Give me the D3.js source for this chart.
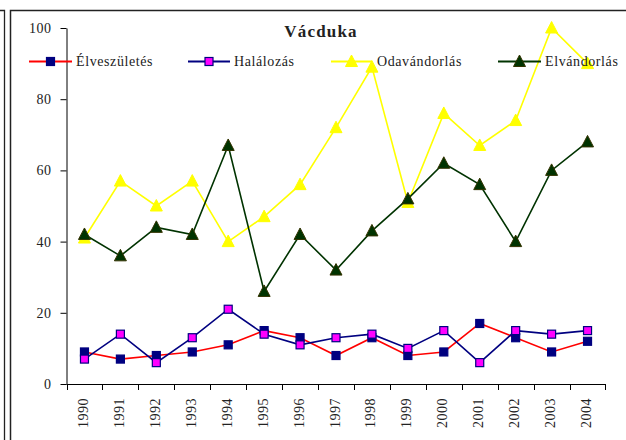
<!DOCTYPE html>
<html>
<head>
<meta charset="utf-8">
<script src="https://cdn.jsdelivr.net/npm/d3@7"></script>
<style>
  body { margin: 0; background: #fff; }
  text { font-family: "Liberation Serif", "Times New Roman", serif; fill: #222; }
</style>
</head>
<body>
<script>
const width = 626, height = 440;

const years = ["1990","1991","1992","1993","1994","1995","1996","1997","1998","1999","2000","2001","2002","2003","2004"];
const elveszuletes = [9, 7, 8, 9, 11, 15, 13, 8, 13, 8, 9, 17, 13, 9, 12];
const halalozas = [7, 14, 6, 13, 21, 14, 11, 13, 14, 10, 15, 6, 15, 14, 15];
const odavandorlas = [41, 57, 50, 57, 40, 47, 56, 72, 89, 51, 76, 67, 74, 100, 90];
const elvandorlas = [42, 36, 44, 42, 67, 26, 42, 32, 43, 52, 62, 56, 40, 60, 68];
const yTicks = [0, 20, 40, 60, 80, 100];

const series = [
  { name: "Élveszületés", values: elveszuletes, line: "#ff0000", marker: "square", fill: "#000080", stroke: "#000080", lx: 29, lx2: 72, tx: 76 },
  { name: "Halálozás", values: halalozas, line: "#000080", marker: "square", fill: "#ff00ff", stroke: "#000080", lx: 188, lx2: 230, tx: 234 },
  { name: "Odavándorlás", values: odavandorlas, line: "#ffff00", marker: "triangle", fill: "#ffff00", stroke: "#ffff00", lx: 331, lx2: 372, tx: 377 },
  { name: "Elvándorlás", values: elvandorlas, line: "#003300", marker: "triangle", fill: "#003300", stroke: "#333300", lx: 498, lx2: 541, tx: 545 }
];

const svg = d3.select("body").append("svg")
  .attr("width", width)
  .attr("height", height);

// frames
svg.append("path")
  .attr("d", "M0,10.5H4.5V440")
  .attr("fill", "none").attr("stroke", "#222").attr("stroke-width", 1.3);
svg.append("path")
  .attr("d", "M10.5,440V10.5H626")
  .attr("fill", "none").attr("stroke", "#222").attr("stroke-width", 1.5);

const x = d3.scaleBand().domain(years).range([66.5, 605.5]).padding(0);
const y = d3.scaleLinear().domain([0, 100]).range([384, 28]);

// y axis
const yAxis = svg.append("g")
  .attr("transform", "translate(66.5,0)")
  .call(d3.axisLeft(y).tickValues(yTicks).tickSize(6).tickSizeOuter(0).tickPadding(9));
yAxis.select(".domain").attr("stroke", "#000");
yAxis.selectAll("line").attr("stroke", "#000");
yAxis.selectAll("text")
  .attr("font-family", "Liberation Serif")
  .attr("font-size", 14)
  .attr("letter-spacing", "0.5px")
  .attr("fill", "#222");

// x axis
const xg = svg.append("g");
xg.append("line")
  .attr("x1", x.range()[0]).attr("x2", x.range()[1])
  .attr("y1", y(0) + 0.5).attr("y2", y(0) + 0.5)
  .attr("stroke", "#000");
const edges = years.map(d => x(d)).concat([x(years[years.length - 1]) + x.bandwidth()]);
xg.selectAll(".tick")
  .data(edges)
  .enter().append("line")
  .attr("x1", d => Math.round(d) + 0.5).attr("x2", d => Math.round(d) + 0.5)
  .attr("y1", y(0)).attr("y2", y(0) + 6)
  .attr("stroke", "#000");
xg.selectAll("text")
  .data(years)
  .enter().append("text")
  .attr("transform", d => `translate(${x(d) + x.bandwidth() / 2 - 1},398) rotate(-90)`)
  .attr("text-anchor", "end")
  .attr("dominant-baseline", "central")
  .attr("font-size", 14)
  .attr("letter-spacing", "0.5px")
  .text(d => d);

// title
svg.append("text")
  .attr("x", 321).attr("y", 37)
  .attr("text-anchor", "middle")
  .attr("font-size", 17)
  .attr("font-weight", "bold")
  .attr("letter-spacing", "1.2px")
  .attr("fill", "#111")
  .text("Vácduka");

const line = d3.line()
  .x((d, i) => x(years[i]) + x.bandwidth() / 2)
  .y(d => y(d));

function drawMarker(g, s, cx, cy) {
  if (s.marker === "square") {
    g.append("rect")
      .attr("x", cx - 4).attr("y", cy - 4)
      .attr("width", 8).attr("height", 8)
      .attr("fill", s.fill).attr("stroke", s.stroke).attr("stroke-width", 1.2);
  } else {
    g.append("path")
      .attr("d", `M${cx},${cy - 6.5}L${cx + 6},${cy + 5}L${cx - 6},${cy + 5}Z`)
      .attr("fill", s.fill).attr("stroke", s.stroke).attr("stroke-width", 1);
  }
}

series.forEach(s => {
  const g = svg.append("g");
  g.append("path")
    .attr("d", line(s.values))
    .attr("fill", "none")
    .attr("stroke", s.line)
    .attr("stroke-width", 1.6);
  s.values.forEach((v, i) => drawMarker(g, s, x(years[i]) + x.bandwidth() / 2, y(v)));
});

// legend
const ly = 61.5;
series.forEach(s => {
  const g = svg.append("g");
  g.append("line")
    .attr("x1", s.lx).attr("x2", s.lx2)
    .attr("y1", ly).attr("y2", ly)
    .attr("stroke", s.line).attr("stroke-width", 1.8);
  drawMarker(g, s, (s.lx + s.lx2) / 2, ly);
  g.append("text")
    .attr("x", s.tx).attr("y", ly + 4.5)
    .attr("font-size", 14)
    .attr("letter-spacing", "0.6px")
    .text(s.name);
});
</script>
</body>
</html>
